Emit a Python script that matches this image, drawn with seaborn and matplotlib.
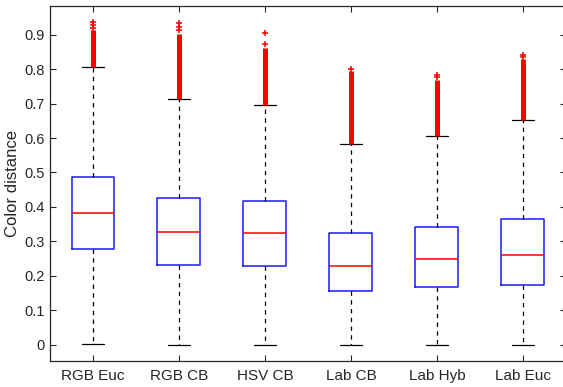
import numpy as np
import pandas as pd
import matplotlib
matplotlib.use("Agg")
import matplotlib.pyplot as plt
import seaborn as sns

# values
methods = ["RGB Euc", "RGB CB", "HSV CB", "Lab CB", "Lab Hyb", "Lab Euc"]
whisker_lo = [0.002, 0.001, 0.001, 0.001, 0.001, 0.001]
q1 = [0.277, 0.233, 0.230, 0.155, 0.169, 0.175]
median = [0.383, 0.327, 0.325, 0.230, 0.248, 0.262]
q3 = [0.487, 0.425, 0.416, 0.325, 0.343, 0.365]
whisker_hi = [0.805, 0.714, 0.696, 0.582, 0.605, 0.653]
# outliers: dense run of '+' from the whisker up to dense_top, then a few loose ones
dense_top = [0.912, 0.902, 0.862, 0.795, 0.768, 0.828]
loose_outliers = [[0.920, 0.927, 0.935], [0.912, 0.922, 0.932], [0.873, 0.905],
                  [0.799], [0.776, 0.784], [0.835, 0.842]]

# five-number table per method -> seaborn box with whiskers at min/max
rows = []
for i, m in enumerate(methods):
    for v in [whisker_lo[i], q1[i], median[i], q3[i], whisker_hi[i]]:
        rows.append({"method": m, "distance": v})
df = pd.DataFrame(rows)

sns.set_style("ticks")
plt.rcParams["font.family"] = ["Liberation Sans", "DejaVu Sans"]
plt.rcParams["xtick.direction"] = "in"
plt.rcParams["ytick.direction"] = "in"

fig = plt.figure(figsize=(5.63, 3.87), dpi=100)
ax = fig.add_axes([50 / 563, 26 / 387, 516 / 563, 355 / 387])

sns.boxplot(data=df, x="method", y="distance", order=methods, whis=(0, 100),
            fill=False, width=0.5, color="blue", linewidth=1.1, ax=ax,
            boxprops=dict(color="#1a1aff"),
            medianprops=dict(color="red"),
            whiskerprops=dict(color="black", linestyle=(0, (3.5, 3.5)), linewidth=0.9),
            capprops=dict(color="black", linewidth=0.9))

pos = np.arange(len(methods))
ax.vlines(pos, whisker_hi, dense_top, color="red", linewidth=3.6, zorder=3)
for i in pos:
    ax.plot([i] * len(loose_outliers[i]), loose_outliers[i], "+", color="red",
            markersize=5, markeredgewidth=1.1, zorder=3)

ax.set_xlim(-0.5, 5.5)
ax.set_ylim(-0.0465, 0.9827)
ax.set_yticks(np.arange(0, 1.0, 0.1))
ax.set_yticklabels(["0"] + [f"{v:.1f}" for v in np.arange(0.1, 1.0, 0.1)])
ax.set_xlabel("")
ax.set_ylabel("Color distance", fontsize=12, labelpad=3)
ax.tick_params(length=4, width=0.8, color="#262626",
               top=True, right=True, labelcolor="#262626")
ax.tick_params(axis="x", labelsize=11, pad=6)
ax.tick_params(axis="y", labelsize=10.5, pad=4)
for s in ax.spines.values():
    s.set_visible(True)
    s.set_color("#262626")
    s.set_linewidth(0.9)

fig.savefig("out.png", dpi=100)
